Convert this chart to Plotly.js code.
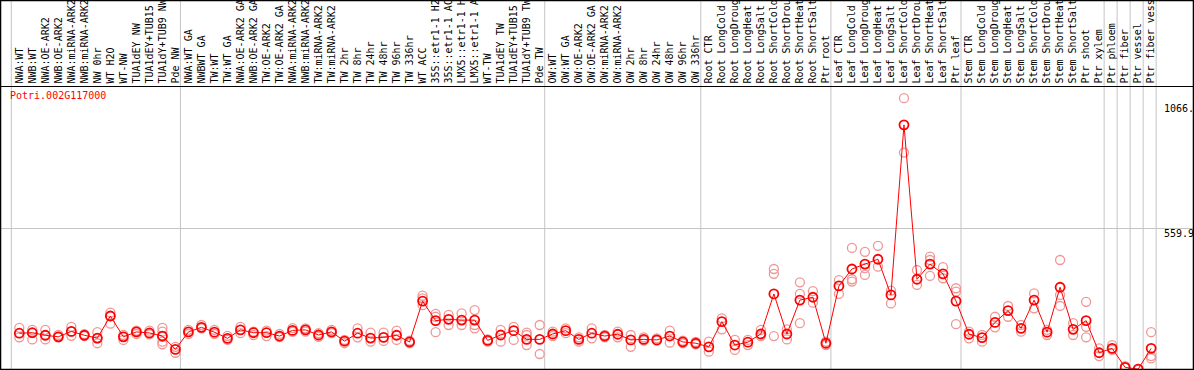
<!DOCTYPE html>
<html><head><meta charset="utf-8">
<script src="https://cdn.plot.ly/plotly-3.0.1.min.js"></script>
<style>html,body{margin:0;padding:0;background:#fff;}#chart{width:1194px;height:370px;}</style>
</head><body><div id="chart"></div>
<script>
const geneId = "Potri.002G117000";
const labels = ["NWA:WT","NWB:WT","NWA:OE-ARK2","NWB:OE-ARK2","NWA:miRNA-ARK2","NWB:miRNA-ARK2","NW 0hr","WT H2O","WT-NW","TUA1dEY NW","TUA1dEY+TUB15","TUA1dY+TUB9 NW","Pde NW",
"NWA:WT GA","NWBWT GA","TW:WT","TW:WT GA","NWA:OE-ARK2 GA","NWB:OE-ARK2 GA","TW:OE-ARK2","TW:OE-ARK2 GA","NWA:miRNA-ARK2","NWB:miRNA-ARK2","TW:miRNA-ARK2","TW:miRNA-ARK2","TW 2hr","TW 8hr","TW 24hr","TW 48hr","TW 96hr","TW 336hr","WT ACC","35S::etr1-1 H2","35S::etr1-1 AC","LMX5::etr1-1 H","LMX5::etr1-1 A","WT-TW","TUA1dEY TW","TUA1dEY+TUB15","TUA1dY+TUB9 TW","Pde TW",
"OW:WT","OW:WT GA","OW:OE-ARK2","OW:OE-ARK2 GA","OW:miRNA-ARK2","OW:miRNA-ARK2","OW 2hr","OW 8hr","OW 24hr","OW 48hr","OW 96hr","OW 336hr",
"Root CTR","Root LongCold","Root LongDroug","Root LongHeat","Root LongSalt","Root ShortCold","Root ShortDrou","Root ShortHeat","Root ShortSalt","Ptr root",
"Leaf CTR","Leaf LongCold","Leaf LongDroug","Leaf LongHeat","Leaf LongSalt","Leaf ShortCold","Leaf ShortDrou","Leaf ShortHeat","Leaf ShortSalt","Ptr leaf",
"Stem CTR","Stem LongCold","Stem LongDroug","Stem LongHeat","Stem LongSalt","Stem ShortCold","Stem ShortDrou","Stem ShortHeat","Stem ShortSalt","Ptr shoot","Ptr xylem",
"Ptr phloem","Ptr fiber","Ptr vessel","Ptr fiber vess"];
const means = [151,153,143,137,158,143,132,218,137,156,152,140,88,
156,174,155,131,164,153,153,140,162,164,144,156,120,151,132,135,143,117,276,200,205,202,202,123,144,161,127,127,
148,161,127,151,140,147,125,127,125,140,117,112,
98,196,105,116,148,304,148,280,291,112,
335,401,420,439,300,962,361,420,382,276,
147,134,193,239,170,280,155,330,166,200,75,
92,18,11,92];
const replicates = [[172,151,135],[164,151,127],[164,143,127],[144,135],[176,157,141],[147,140],[155,131,112],[231,218,188],[144,125],[161,148],[161,147],[172,157,137,118,108],[98,75],
[164,148],[183,170],[164,148],[141,125],[176,151],[157,144],[161,140],[148,136],[171,156],[170,157],[151,137],[164,151],[125,112],[170,135],[153,118],[153,121],[161,125],[122,112],[297,287,260],[226,215,155],[222,183],[228,183],[241,183,170],[127,118],[164,118],[176,125],[153,144,105],[183,70],
[157,140],[170,151],[135,118],[170,131],[144,135],[157,135],[144,98],[135,122],[131,122],[161,114],[122,112],[117,108],
[118,79],[209,166],[125,86],[125,105],[164,140],[401,382,140],[166,127],[349,304,190],[315,270],[118,105],
[358,304],[483,361,352],[468,404,378],[491,410],[317,267],[1066,854],[397,339],[449,436,374],[408,365],[326,313,186],
[157,131],[144,118],[215,174],[257,215],[183,157],[306,248],[164,144],[436,300,257],[190,144],[273,176,135],[92,62],
[105,86],[23,16],[12,8],[155,62,53]];
const groupStarts = [0,13,41,53,63,73,84,85,86,87,88];
const yTicks = [0, 559.9, 1066];
const yTickText = ["0","559.9","1066."];

const idx = labels.map((_, i) => i);
const repX = [], repY = [];
replicates.forEach((r, i) => r.forEach(v => { repX.push(i); repY.push(v); }));

const xr = [-1.4066, 90.216];
const yr = [11.7, 1109.4];
const topExt = 1 + 87/282;

const shapes = groupStarts.map(k => {
  const px = (k - 0.615 - xr[0]) / (xr[1] - xr[0]);
  return {type:'line', xref:'paper', yref:'paper', x0:px, x1:px, y0:0, y1:topExt,
          line:{color:'#c4c4c4', width:1}, layer:'below'};
});
shapes.push({type:'rect', xref:'paper', yref:'paper', x0:-0.0004, x1:1.0004, y0:-0.002, y1:topExt-0.002,
             line:{color:'#000', width:1.5}, fillcolor:'rgba(0,0,0,0)', layer:'above'});

const mono = '"DejaVu Sans Mono", "Liberation Mono", monospace';
const annotations = [
  {text: geneId, xref:'paper', yref:'paper', x:0.006, y:0.995, xanchor:'left', yanchor:'top', showarrow:false,
   font:{family:mono, size:10, color:'#ff0000'}},
  {text: yTickText[2], xref:'paper', yref:'y', x:0.974, y:yTicks[2], xanchor:'left', yanchor:'top', yshift:-3, showarrow:false,
   font:{family:mono, size:10, color:'#000'}},
  {text: yTickText[1], xref:'paper', yref:'y', x:0.974, y:yTicks[1], xanchor:'left', yanchor:'top', yshift:2, showarrow:false,
   font:{family:mono, size:10, color:'#000'}},
  {text: yTickText[0], xref:'paper', yref:'y', x:0.974, y:yTicks[0], xanchor:'left', yanchor:'bottom', yshift:5, showarrow:false,
   font:{family:mono, size:10, color:'#000'}}
];

const traces = [
  {x: repX, y: repY, type:'scatter', mode:'markers', hoverinfo:'skip',
   marker:{symbol:'circle-open', size:9, color:'rgb(240,150,150)', line:{width:1.3, color:'rgb(240,150,150)'}}},
  {x: idx, y: means, type:'scatter', mode:'lines+markers',
   line:{color:'#ff0000', width:1},
   marker:{symbol:'circle-open', size:9, color:'#ff0000', line:{width:1.8, color:'#ff0000'}}}
];

const layout = {
  width:1194, height:370, showlegend:false,
  paper_bgcolor:'#fff', plot_bgcolor:'#fff',
  margin:{l:1, r:1, t:87, b:1, pad:0},
  xaxis:{range:xr, side:'top', tickmode:'array', tickvals:idx, ticktext:labels, tickangle:-90,
         ticks:'', showgrid:false, zeroline:false, showline:true, linecolor:'#000', linewidth:1.5,
         tickfont:{family:mono, size:10, color:'#000'}, automargin:false},
  yaxis:{range:yr, tickmode:'array', tickvals:[yTicks[1]], showticklabels:false, ticks:'',
         showgrid:true, gridcolor:'#c4c4c4', gridwidth:1, zeroline:false, showline:false, automargin:false},
  shapes: shapes,
  annotations: annotations
};
Plotly.newPlot('chart', traces, layout, {staticPlot:true, displayModeBar:false});
</script></body></html>
